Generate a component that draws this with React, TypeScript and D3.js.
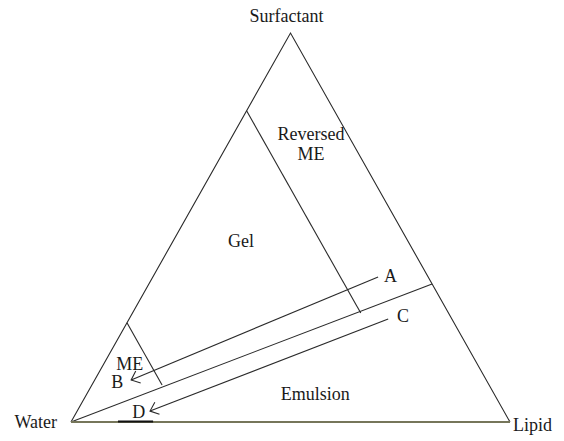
import * as d3 from "d3";

const width = 564;
const height = 441;

// corner names of the ternary diagram
const vertexNames = ["Water", "Surfactant", "Lipid"];

// compositions as [surfactant, lipid], water is what remains
const gelBoundary = [[0.8, 0], [0.28, 0.52]];
const meBoundary = [[0.255, 0], [0.095, 0.16]];
const dilutionLine = [[0, 0], [0.355, 0.645]];
const pathA = [[0.373, 0.513], [0.108, 0.083]];
const pathC = [[0.265, 0.59], [0.028, 0.166]];

const pointNames = ["A", "B", "C", "D"];
const pointAnchors = [[0.36, 0.533], [0.087, 0.062], [0.257, 0.614], [0.0103, 0.149]];

const regionNames = [["Reversed", "ME"], ["Gel"], ["Emulsion"], ["ME"]];
const regionAnchors = [[0.673, 0.21], [0.45, 0.162], [0.057, 0.528], [0.134, 0.067]];

// short dark mark on the water-lipid side, as lipid fraction
const markRange = [0.107, 0.187];

const x = d3.scaleLinear().domain([0, 1]).range([71, 510]);
const y = d3.scaleLinear().domain([0, 1]).range([422, 33]);

// ternary -> screen
const pt = ([s, l]: number[]): [number, number] => [x(l + s / 2), y(s)];

const line = d3.line();

const arrowHead = (tip: number[], from: number[]) => {
  const [tx, ty] = pt(tip);
  const [fx, fy] = pt(from);
  const a = Math.atan2(fy - ty, fx - tx);
  const len = 10;
  const spread = (40 * Math.PI) / 180;
  return line([
    [tx + len * Math.cos(a - spread), ty + len * Math.sin(a - spread)],
    [tx, ty],
    [tx + len * Math.cos(a + spread), ty + len * Math.sin(a + spread)],
  ]);
};

const App = () => {
  const W = pt([0, 0]);
  const S = pt([1, 0]);
  const L = pt([0, 1]);
  const ink = "#2a2a2a";
  const font = "'Liberation Serif', 'Times New Roman', serif";

  return (
    <svg
      width={width}
      height={height}
      viewBox={`0 0 ${width} ${height}`}
      style={{ position: "absolute", left: 0, top: 0, background: "#fff" }}
      fontFamily={font}
      fontSize={18}
    >
      <g fill="none" stroke={ink} strokeWidth={1.1}>
        <path d={line([W, S, L]) ?? ""} />
        <path d={line(gelBoundary.map(pt)) ?? ""} />
        <path d={line(meBoundary.map(pt)) ?? ""} />
        <path d={line(dilutionLine.map(pt)) ?? ""} />
        <path d={line(pathA.map(pt)) ?? ""} />
        <path d={line(pathC.map(pt)) ?? ""} />
        <path d={arrowHead(pathA[1], pathA[0]) ?? ""} />
        <path d={arrowHead(pathC[1], pathC[0]) ?? ""} />
      </g>
      {/* water-lipid side */}
      <line x1={W[0]} y1={W[1]} x2={L[0]} y2={L[1]} stroke="#76765a" strokeWidth={2} />
      <line
        x1={x(markRange[0])}
        x2={x(markRange[1])}
        y1={y(0) - 0.5}
        y2={y(0) - 0.5}
        stroke="#111"
        strokeWidth={2}
      />

      <g fill="#1a1a1a">
        <text x={S[0] - 4} y={S[1] - 11} textAnchor="middle">{vertexNames[1]}</text>
        <text x={W[0] - 14} y={W[1] + 6} textAnchor="end">{vertexNames[0]}</text>
        <text x={L[0] + 3} y={L[1] + 9}>{vertexNames[2]}</text>

        {regionNames.map((lines, i) => {
          const [cx, cy] = pt(regionAnchors[i]);
          return (
            <text key={i} x={cx} y={cy - (lines.length - 1) * 20} textAnchor="middle">
              {lines.map((t, j) => (
                <tspan key={j} x={cx} dy={j === 0 ? 0 : 20}>{t}</tspan>
              ))}
            </text>
          );
        })}

        {pointNames.map((n, i) => {
          const [px, py] = pt(pointAnchors[i]);
          return (
            <text key={n} x={px} y={py} textAnchor={i % 2 === 0 ? "start" : "middle"}>
              {n}
            </text>
          );
        })}
      </g>
    </svg>
  );
};

export default App;
